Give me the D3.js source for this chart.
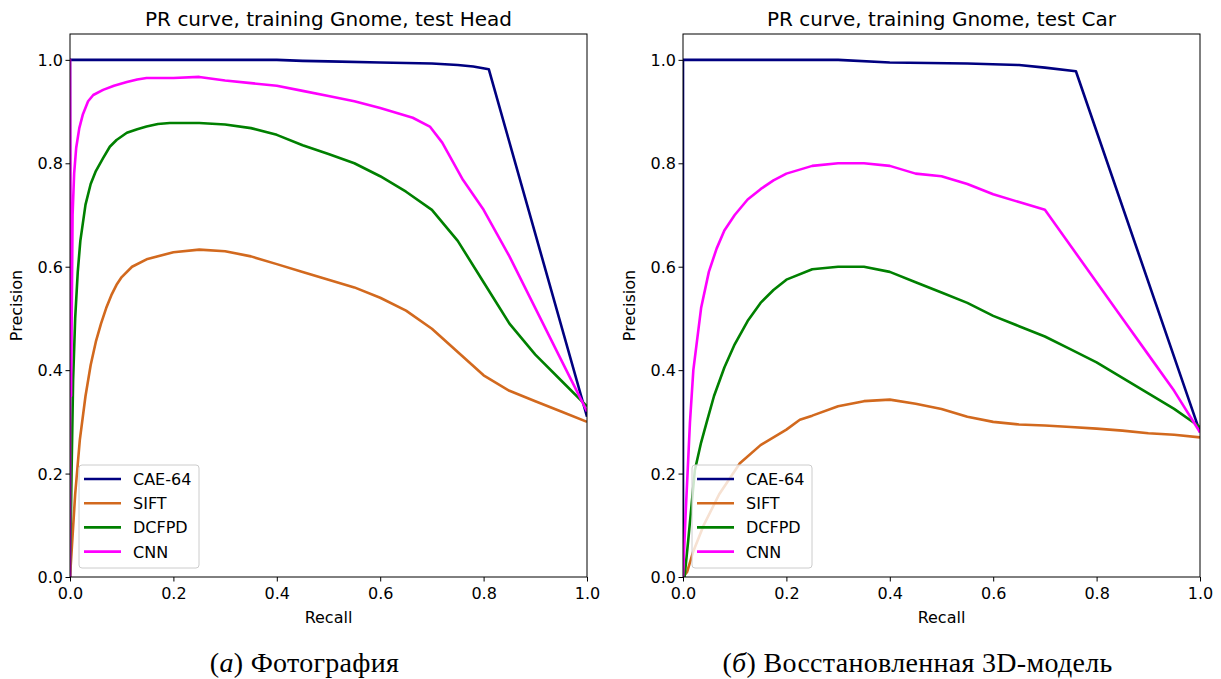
<!DOCTYPE html>
<html><head><meta charset="utf-8">
<script src="https://cdn.jsdelivr.net/npm/d3@7"></script>
<style>body{margin:0;background:#fff}svg{display:block}</style>
</head><body>
<svg id="c" width="1221" height="679"></svg>
<script>
const seriesNames = ["CAE-64", "SIFT", "DCFPD", "CNN"];
const seriesColors = ["#000080", "#d2691e", "#008000", "#ff00ff"];
const ticks = [0, 0.2, 0.4, 0.6, 0.8, 1.0];
const panelTitles = ["PR curve, training Gnome, test Head", "PR curve, training Gnome, test Car"];
const captionLetters = ["a", "б"];
const captionTexts = ["Фотография", "Восстановленная 3D-модель"];

// Left panel (test Head): [recall, precision]
const headCAE = [[0,0],[0,1.0],[0.2,1.0],[0.4,1.0],[0.45,0.998],[0.5,0.997],[0.6,0.995],[0.7,0.993],[0.75,0.99],[0.78,0.987],[0.81,0.982],[1.0,0.31]];
const headSIFT = [[0,0],[0.005,0.08],[0.01,0.16],[0.019,0.265],[0.03,0.35],[0.04,0.41],[0.05,0.455],[0.06,0.49],[0.07,0.52],[0.08,0.545],[0.09,0.565],[0.1,0.58],[0.12,0.6],[0.15,0.615],[0.2,0.628],[0.25,0.633],[0.3,0.63],[0.35,0.62],[0.4,0.605],[0.45,0.59],[0.5,0.575],[0.55,0.56],[0.6,0.54],[0.65,0.515],[0.7,0.48],[0.75,0.435],[0.8,0.39],[0.85,0.36],[0.9,0.34],[0.95,0.32],[1.0,0.30]];
const headDCFPD = [[0,0],[0.003,0.2],[0.006,0.38],[0.01,0.5],[0.015,0.59],[0.02,0.65],[0.03,0.72],[0.04,0.76],[0.05,0.785],[0.064,0.81],[0.077,0.832],[0.09,0.845],[0.11,0.859],[0.13,0.866],[0.148,0.871],[0.17,0.876],[0.193,0.878],[0.25,0.878],[0.3,0.875],[0.35,0.868],[0.4,0.855],[0.45,0.835],[0.5,0.818],[0.55,0.80],[0.6,0.775],[0.65,0.745],[0.7,0.71],[0.75,0.65],[0.8,0.57],[0.85,0.49],[0.9,0.43],[0.95,0.38],[1.0,0.33]];
const headCNN = [[0,0],[0,1.0],[0.002,0.35],[0.005,0.7],[0.008,0.78],[0.012,0.83],[0.018,0.868],[0.025,0.895],[0.035,0.92],[0.045,0.932],[0.064,0.942],[0.085,0.95],[0.11,0.957],[0.13,0.962],[0.148,0.965],[0.2,0.965],[0.25,0.967],[0.3,0.96],[0.35,0.955],[0.4,0.95],[0.45,0.94],[0.5,0.93],[0.55,0.92],[0.6,0.907],[0.663,0.888],[0.696,0.871],[0.72,0.84],[0.76,0.768],[0.8,0.71],[0.85,0.62],[0.9,0.52],[0.95,0.42],[1.0,0.32]];

// Right panel (test Car)
const carCAE = [[0,0],[0,1.0],[0.2,1.0],[0.3,1.0],[0.4,0.995],[0.55,0.993],[0.65,0.99],[0.7,0.985],[0.76,0.978],[1.0,0.28]];
const carSIFT = [[0,0],[0.008,0.01],[0.02,0.05],[0.04,0.1],[0.07,0.16],[0.11,0.22],[0.15,0.255],[0.2,0.285],[0.226,0.304],[0.25,0.312],[0.3,0.33],[0.35,0.34],[0.4,0.343],[0.45,0.335],[0.5,0.325],[0.55,0.31],[0.6,0.30],[0.65,0.295],[0.7,0.293],[0.75,0.29],[0.8,0.287],[0.85,0.283],[0.9,0.278],[0.95,0.275],[1.0,0.27]];
const carDCFPD = [[0,0],[0.003,0.0],[0.01,0.07],[0.023,0.207],[0.035,0.26],[0.046,0.30],[0.06,0.35],[0.08,0.405],[0.1,0.45],[0.125,0.495],[0.15,0.53],[0.175,0.555],[0.2,0.575],[0.25,0.595],[0.3,0.60],[0.35,0.60],[0.4,0.59],[0.45,0.57],[0.5,0.55],[0.55,0.53],[0.6,0.505],[0.65,0.485],[0.7,0.465],[0.75,0.44],[0.8,0.415],[0.85,0.385],[0.9,0.355],[0.95,0.325],[1.0,0.29]];
const carCNN = [[0,0],[0.005,0.12],[0.0135,0.30],[0.02,0.4],[0.035,0.52],[0.05,0.59],[0.065,0.635],[0.08,0.67],[0.1,0.70],[0.125,0.73],[0.15,0.75],[0.175,0.767],[0.2,0.78],[0.25,0.795],[0.3,0.80],[0.35,0.80],[0.4,0.795],[0.45,0.78],[0.5,0.775],[0.55,0.76],[0.6,0.74],[0.65,0.725],[0.7,0.71],[0.75,0.64],[0.8,0.57],[0.85,0.50],[0.9,0.43],[0.95,0.36],[1.0,0.28]];

const panels = [
  {data:[headCAE, headSIFT, headDCFPD, headCNN], x0:70, x1:587},
  {data:[carCAE, carSIFT, carDCFPD, carCNN], x0:683, x1:1200}
];

const svg = d3.select("#c");
const yTop = 34, yBot = 577;
const font = "DejaVu Sans, sans-serif";

panels.forEach((p, pi) => {
  const x = d3.scaleLinear().domain([0,1]).range([p.x0, p.x1]);
  const y = d3.scaleLinear().domain([0,1.05]).range([yBot, yTop]);
  const g = svg.append("g");
  const clipId = "clip" + pi;
  svg.append("clipPath").attr("id", clipId).append("rect")
    .attr("x", p.x0).attr("y", yTop).attr("width", p.x1 - p.x0).attr("height", yBot - yTop);
  const line = d3.line().x(d => x(d[0])).y(d => y(d[1]));
  p.data.forEach((s, i) => {
    g.append("path").attr("d", line(s)).attr("fill", "none")
      .attr("stroke", seriesColors[i]).attr("stroke-width", 2.6)
      .attr("stroke-linejoin", "round").attr("clip-path", `url(#${clipId})`);
  });
  g.append("rect").attr("x", p.x0).attr("y", yTop).attr("width", p.x1 - p.x0).attr("height", yBot - yTop)
    .attr("fill", "none").attr("stroke", "#000").attr("stroke-width", 1);
  const xa = g.append("g").attr("transform", `translate(0,${yBot})`)
    .call(d3.axisBottom(x).tickValues(ticks).tickFormat(d3.format(".1f")).tickSize(4.5).tickSizeOuter(0));
  const ya = g.append("g").attr("transform", `translate(${p.x0},0)`)
    .call(d3.axisLeft(y).tickValues(ticks).tickFormat(d3.format(".1f")).tickSize(4.5).tickSizeOuter(0));
  [xa, ya].forEach(a => {
    a.select(".domain").remove();
    a.selectAll("text").attr("font-family", font).attr("font-size", 16).attr("fill", "#000");
    a.selectAll("line").attr("stroke", "#000");
  });
  xa.selectAll("text").attr("y", 7).attr("dy", "0.95em");
  ya.selectAll("text").attr("x", -7).attr("dy", "0.35em");
  const cx = (p.x0 + p.x1) / 2;
  g.append("text").attr("x", cx).attr("y", 26).attr("text-anchor", "middle")
    .attr("font-family", font).attr("font-size", 20).text(panelTitles[pi]);
  g.append("text").attr("x", cx).attr("y", 623).attr("text-anchor", "middle")
    .attr("font-family", font).attr("font-size", 16).text("Recall");
  g.append("text").attr("transform", `translate(${p.x0 - 48},${(yTop + yBot)/2}) rotate(-90)`)
    .attr("text-anchor", "middle").attr("font-family", font).attr("font-size", 16).text("Precision");
  // legend
  const lx = p.x0 + 9, ly = 465;
  g.append("rect").attr("x", lx).attr("y", ly).attr("width", 120).attr("height", 103).attr("rx", 3)
    .attr("fill", "#fff").attr("fill-opacity", 0.8).attr("stroke", "#ccc").attr("stroke-width", 1);
  seriesNames.forEach((n, i) => {
    const yy = ly + 14 + i * 24.2;
    g.append("line").attr("x1", lx + 5).attr("x2", lx + 42).attr("y1", yy).attr("y2", yy)
      .attr("stroke", seriesColors[i]).attr("stroke-width", 2.6);
    g.append("text").attr("x", lx + 54).attr("y", yy + 6).attr("font-family", font)
      .attr("font-size", 16).text(n);
  });
  const cap = g.append("text").attr("x", cx - 24).attr("y", 672).attr("text-anchor", "middle")
    .attr("font-family", "Liberation Serif, DejaVu Serif, serif").attr("font-size", 28)
    .attr("letter-spacing", 0.3);
  cap.append("tspan").text("(");
  cap.append("tspan").attr("font-style", "italic").text(captionLetters[pi]);
  cap.append("tspan").text(") " + captionTexts[pi]);
});
</script>
</body></html>
